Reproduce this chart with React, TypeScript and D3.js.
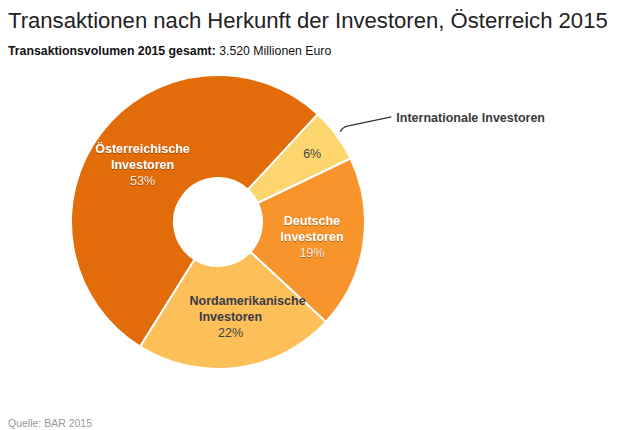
import * as d3 from "d3";

const categories = ["Österreichische", "Internationale", "Deutsche", "Nordamerikanische"];
const shares = [53, 6, 19, 22];
const sliceColors = ["#e36c0a", "#fed66f", "#f7942c", "#fdbf57"];
const labelLines = [["Österreichische", "Investoren"], [], ["Deutsche", "Investoren"], ["Nordamerikanische", "Investoren"]];
const darkText = [false, true, false, true];

const W = 640, H = 430;
const cx = 218, cy = 222;
const rOuter = 147, rInner = 44;
const start = (-148 * Math.PI) / 180;
const font = "'Liberation Sans', Arial, Helvetica, sans-serif";

export default function App() {
  const pie = d3.pie<number>().sort(null).value(d => d)
    .startAngle(start).endAngle(start + 2 * Math.PI);
  const arcs = pie(shares);
  const arc = d3.arc<d3.PieArcDatum<number>>().innerRadius(rInner).outerRadius(rOuter);
  const labelArc = d3.arc<d3.PieArcDatum<number>>().innerRadius(95).outerRadius(95);
  const pctArc = d3.arc<d3.PieArcDatum<number>>().innerRadius(117).outerRadius(117);
  const leadArc = d3.arc<d3.PieArcDatum<number>>().innerRadius(152).outerRadius(152);

  const intl = arcs[1];
  const [lx, ly] = leadArc.centroid(intl);

  return (
    <div style={{ position: "absolute", left: 0, top: 0 }}>
      <svg width={W} height={H} style={{ display: "block", fontFamily: font }}>
        <defs>
          <filter id="shadow" x="-10%" y="-20%" width="120%" height="140%">
            <feDropShadow dx="0" dy="0.6" stdDeviation="0.7" floodColor="#000" floodOpacity="0.55" />
          </filter>
        </defs>
        <text x={8} y={28} fontSize={22.1} fill="#222" fontWeight={300}>
          Transaktionen nach Herkunft der Investoren, Österreich 2015
        </text>
        <text x={8} y={55} fontSize={12.3} fill="#111">
          <tspan fontWeight="bold">Transaktionsvolumen 2015 gesamt:</tspan>
          <tspan> 3.520 Millionen Euro</tspan>
        </text>
        <g transform={`translate(${cx},${cy})`}>
          {arcs.map((a, i) => (
            <path key={categories[i]} d={arc(a) ?? ""} fill={sliceColors[i]} stroke="#fff" strokeWidth={2} />
          ))}
          {arcs.map((a, i) => {
            const lines = labelLines[i];
            if (lines.length === 0) {
              const [px, py] = pctArc.centroid(a);
              return (
                <text key={i} x={px} y={py + 5} textAnchor="middle" fontSize={12.5} fill="#444">
                  {shares[i]}%
                </text>
              );
            }
            const [px, py] = labelArc.centroid(a);
            const fill = darkText[i] ? "#3a3a4a" : "#fff";
            const pctFill = darkText[i] ? "#444" : "#f6e8da";
            return (
              <g key={i} filter={darkText[i] ? undefined : "url(#shadow)"}>
                <text x={px + (i === 3 ? 17 : 0)} y={py - 11} textAnchor="middle" fontSize={12.5} fontWeight="bold" fill={fill}>{lines[0]}</text>
                <text x={px} y={py + 5} textAnchor="middle" fontSize={12.5} fontWeight="bold" fill={fill}>{lines[1]}</text>
                <text x={px} y={py + 21} textAnchor="middle" fontSize={12.5} fill={pctFill}>{shares[i]}%</text>
              </g>
            );
          })}
          <path
            d={`M${lx},${ly} Q${lx + 2},${ly - 5} ${lx + 8},${ly - 6} L${lx + 51},${ly - 15}`}
            fill="none" stroke="#333" strokeWidth={1.3}
          />
          <text x={lx + 56} y={ly - 10} fontSize={12.5} fontWeight="bold" fill="#3a3a3a">
            {categories[1]} Investoren
          </text>
        </g>
        <text x={8} y={427} fontSize={10.5} fill="#999">Quelle: BAR 2015</text>
      </svg>
    </div>
  );
}
